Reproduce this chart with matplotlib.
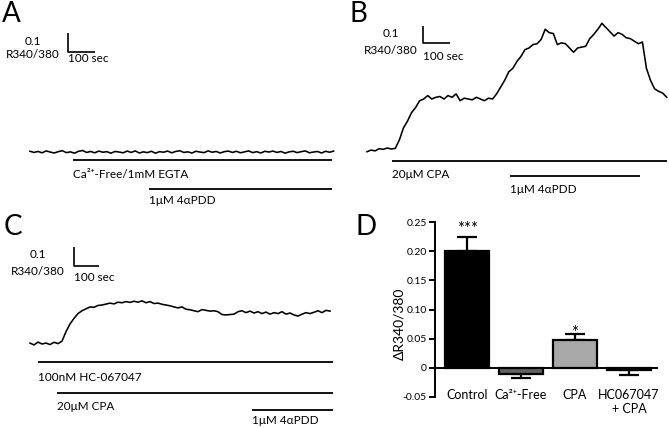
import numpy as np
import matplotlib.pyplot as plt

plt.rcParams['font.family'] = ['Lato', 'DejaVu Sans']

# ------------------------------------------------
#           DATA
# ------------------------------------------------

# trace A: Ca2+-free / EGTA, 15 s per sample (delta ratio)
dt_a = 15
trace_a = [0.004, -0.002, 0.003, -0.004, 0.006, 0.0, -0.005, 0.002, 0.007, -0.003,
           0.001, -0.006, 0.004, 0.008, -0.002, 0.003, -0.004, 0.005, -0.001, 0.002,
           -0.006, 0.003, 0.0, -0.004, 0.005, -0.002, 0.006, -0.005, 0.001, -0.003,
           0.004, -0.006, 0.002, -0.001, 0.005, -0.004, 0.003, 0.007, -0.002, 0.001,
           -0.005, 0.004, 0.0, -0.003, 0.006, -0.001, 0.003, -0.005, 0.002, 0.005,
           -0.002, 0.004, -0.004, 0.001, 0.006, -0.003, 0.002, -0.005, 0.004, 0.0,
           0.005, -0.002, 0.003, -0.006, 0.001, 0.004, -0.003, 0.002, 0.006, -0.004,
           0.0, 0.003, -0.005, 0.004, -0.001, 0.005]

# trace B: CPA then 4aPDD, 15 s per sample
dt_b = 15
trace_b = [-0.01, 0.0, -0.005, 0.008, 0.004, 0.012, 0.006, 0.01, 0.06, 0.13,
           0.17, 0.22, 0.25, 0.29, 0.30, 0.32, 0.30, 0.31, 0.315, 0.30,
           0.32, 0.31, 0.33, 0.29, 0.305, 0.30, 0.295, 0.31, 0.30, 0.29,
           0.305, 0.30, 0.33, 0.37, 0.41, 0.46, 0.48, 0.52, 0.55, 0.59,
           0.60, 0.62, 0.625, 0.65, 0.71, 0.69, 0.685, 0.62, 0.63, 0.625,
           0.60, 0.575, 0.60, 0.605, 0.61, 0.655, 0.68, 0.71, 0.745, 0.72,
           0.695, 0.67, 0.69, 0.68, 0.66, 0.655, 0.64, 0.625, 0.635, 0.48,
           0.41, 0.36, 0.345, 0.335, 0.31]

# trace C: HC-067047 + CPA then 4aPDD, 16 s per sample
dt_c = 16
trace_c = [0.0, -0.01, 0.005, -0.005, 0.0, -0.008, 0.004, -0.003, 0.01, 0.06,
           0.10, 0.13, 0.155, 0.17, 0.18, 0.19, 0.188, 0.198, 0.20, 0.205,
           0.21, 0.206, 0.215, 0.212, 0.218, 0.214, 0.22, 0.215, 0.222, 0.212,
           0.218, 0.208, 0.21, 0.204, 0.20, 0.196, 0.19, 0.185, 0.19, 0.178,
           0.175, 0.17, 0.165, 0.176, 0.172, 0.168, 0.17, 0.165, 0.15, 0.148,
           0.15, 0.152, 0.165, 0.17, 0.16, 0.168, 0.158, 0.165, 0.155, 0.163,
           0.152, 0.16, 0.155, 0.165, 0.152, 0.158, 0.148, 0.142, 0.152, 0.16,
           0.155, 0.162, 0.17, 0.16, 0.172, 0.168]

# drug applications (label, start s, end s)
drugs_a = [('Ca\u00b2\u207a-Free/1mM EGTA', 159, 1118), ('1\u03bcM 4\u03b1PDD', 441, 1118)]
drugs_b = [('20\u03bcM CPA', 93, 1111), ('1\u03bcM 4\u03b1PDD', 530, 1011)]
drugs_c = [('100nM HC-067047', 32, 1212), ('20\u03bcM CPA', 108, 1212),
           ('1\u03bcM 4\u03b1PDD', 888, 1212)]

# summary bars (panel D)
groups = ['Control', 'Ca\u00b2\u207a-Free', 'CPA', 'HC067047\n+ CPA']
means = [0.200, -0.011, 0.047, -0.004]
sems = [0.025, 0.007, 0.011, 0.008]
stars = ['***', '', '*', '']
bar_colors = ['#000000', '#606060', '#a8a8a8', '#707070']

# ------------------------------------------------
#           FIGURE
# ------------------------------------------------
W, H = 669, 428
fig = plt.figure(figsize=(W / 100, H / 100), dpi=100)
PT = 0.72  # points per pixel at dpi 100


def panel_axes(x0, y0, x1, y1):
    ax = fig.add_axes([x0 / W, 1 - y1 / H, (x1 - x0) / W, (y1 - y0) / H])
    ax.axis('off')
    return ax


def note(ax, s, xy, dx, dy, ha='left', size=8.5):
    # dx, dy: pixel offset of the text baseline from xy
    ax.annotate(s, xy, xytext=(dx * PT, -dy * PT), textcoords='offset points',
                ha=ha, va='baseline', fontsize=size)


def scalebar(ax, t0, r0, lab_t, offs):
    ax.plot([t0, t0, t0 + 100], [r0 + 0.1, r0, r0], color='k', lw=1.2,
            solid_capstyle='butt')
    note(ax, '0.1', (lab_t, r0), 0, offs[0], ha='center')
    note(ax, 'R340/380', (lab_t, r0), 0, offs[1], ha='center')
    note(ax, '100 sec', (t0, r0), 0, offs[2])


def drug_lines(ax, drugs, ys, offs):
    for (lab, t0, t1), y, o in zip(drugs, ys, offs):
        ax.plot([t0, t1], [y, y], color='k', lw=1.3, solid_capstyle='butt')
        note(ax, lab, (t0, y), 0, o)


# ---- A ----
axA = panel_axes(0, 0, 335, 214)
axA.set_xlim(-111, 1130)
axA.set_ylim(-0.326, 0.80)
axA.plot(np.arange(len(trace_a)) * dt_a, trace_a, color='k', lw=1.15)
scalebar(axA, 141, 0.526, 11, [-7, 6, 10])
drug_lines(axA, drugs_a, [-0.042, -0.195], [18, 15])

# ---- B ----
axB = panel_axes(335, 0, 669, 214)
axB.set_xlim(-118.5, 1118.5)
axB.set_ylim(-0.376, 0.882)
axB.plot(np.arange(len(trace_b)) * dt_b, trace_b, color='k', lw=1.15)
scalebar(axB, 207, 0.629, 88, [-6, 11, 17])
drug_lines(axB, drugs_b, [-0.065, -0.153], [17, 17])

# ---- C ----
axC = panel_axes(0, 214, 335, 428)
axC.set_xlim(-120, 1220)
axC.set_ylim(-0.447, 0.679)
axC.plot(np.arange(len(trace_c)) * dt_c, trace_c, color='k', lw=1.15)
scalebar(axC, 176, 0.405, 32, [-8, 9, 15])
drug_lines(axC, drugs_c, [-0.1, -0.263, -0.353], [19, 17, 14])

# ---- D ----
axD = fig.add_axes([435 / W, 1 - 397 / H, (658 - 435) / W, (397 - 222) / H])
x = np.arange(len(groups))
axD.bar(x, means, width=0.815, color=bar_colors, edgecolor='k', linewidth=1.6,
        zorder=3)
star_offs = [-3, 0, 4, 0]
for xi, m, e, s, o in zip(x, means, sems, stars, star_offs):
    err = [[0], [e]] if m > 0 else [[e], [0]]
    axD.errorbar(xi, m, yerr=err, color='k', lw=1.6, capsize=7, capthick=1.6,
                 zorder=2)
    if s:
        note(axD, s, (xi, m + e), 0, o, ha='center', size=12)
axD.axhline(0, color='k', lw=1.4, zorder=4)
axD.set_xlim(-0.593, 3.537)
axD.set_ylim(-0.05, 0.25)
axD.set_yticks([-0.05, 0, 0.05, 0.10, 0.15, 0.20, 0.25])
axD.set_yticklabels(['-0.05', '0', '0.05', '0.10', '0.15', '0.20', '0.25'],
                    fontsize=7.5)
axD.set_xticks([])
for xi, g in zip(x, groups):
    axD.text(xi, -0.036, g, ha='center', va='top', fontsize=9,
             linespacing=1.2)
axD.spines[['top', 'right', 'bottom']].set_visible(False)
axD.spines['left'].set_linewidth(1.4)
axD.tick_params(axis='y', length=4, width=1.4, pad=2)
axD.set_ylabel('\u0394R340/380', fontsize=10)
axD.yaxis.set_label_coords(-0.135, 0.42)

# panel letters
for lab, px, py in [('A', 2, 1), ('B', 350, 1), ('C', 4, 214), ('D', 356, 214)]:
    fig.text(px / W, 1 - py / H, lab, fontsize=20, ha='left', va='top')

fig.savefig('out.png', dpi=100)
